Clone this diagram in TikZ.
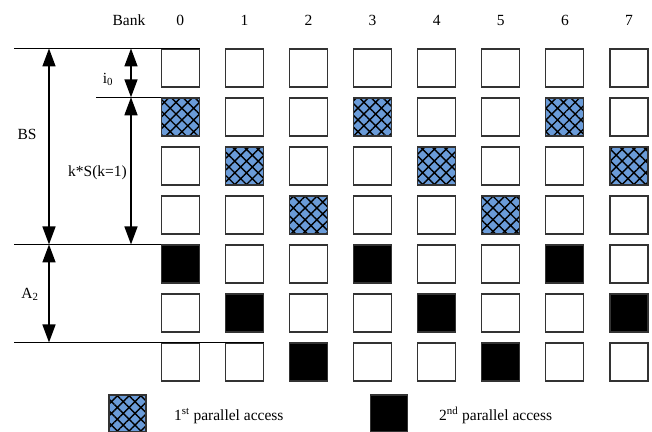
\documentclass[tikz,border=0pt]{standalone}
\usepackage{fontspec}
\setmainfont{Liberation Serif}
\usetikzlibrary{arrows.meta,patterns.meta}
\definecolor{hatchblue}{RGB}{106,155,216}
\tikzset{
	cell/.style={draw=black!80,line width=1.1pt,minimum size=38pt,inner sep=0pt},
	first/.style={preaction={fill=hatchblue},pattern={Hatch[angle=45,distance=8.3pt,line width=1.4pt]},pattern color=black},
	second/.style={fill=black},
	kind0/.style={cell},
	kind1/.style={cell,first},
	kind2/.style={cell,second},
	rule/.style={line width=0.9pt},
	dim/.style={{Triangle[length=18pt,width=13pt]}-{Triangle[length=18pt,width=13pt]},line width=1.5pt},
}
\begin{document}
\begin{tikzpicture}[x=1pt,y=-1pt,font=\fontsize{15.5}{18}\selectfont]
	\useasboundingbox (0,0) rectangle (652,431);
	\node[anchor=base] (bank) at (129,25.5) {Bank};
	\foreach \c in {0,...,7}{
		\node[anchor=base] (b\c) at (180.3+64.1*\c,25.5) {\c};
		\pgfmathtruncatemacro\m{mod(\c,3)}
		\foreach \r in {0,...,6}{
			\pgfmathtruncatemacro\k{(\r==\m+1)+2*(\r==\m+4)}
			\node[kind\k] (s\c-\r) at (180.3+64.1*\c,68+49*\r) {};
		}
	}
	\coordinate (top) at (14,0 |- s0-0.north);
	\coordinate (mid) at (96,0 |- s0-1.north);
	\coordinate (low) at (14,0 |- s0-4.north);
	\coordinate (bot) at (14,0 |- s0-6.north);
	\draw[rule] (top) -- (s0-0.north east);
	\draw[rule] (mid) -- (s0-1.north west);
	\draw[rule] (low) -- (s0-4.north west);
	\draw[rule] (bot) -- (s1-6.north east);
	\coordinate (bs-a) at (49,0 |- top);
	\coordinate (bs-b) at (49,0 |- low);
	\coordinate (a2-b) at (49,0 |- bot);
	\coordinate (i0-a) at (131,0 |- top);
	\coordinate (i0-b) at (131,0 |- mid);
	\coordinate (ks-b) at (131,0 |- low);
	\draw[dim] (bs-a) -- (bs-b);
	\draw[dim] (bs-b) -- (a2-b);
	\draw[dim] (i0-a) -- (i0-b);
	\draw[dim] (i0-b) -- (ks-b);
	\node[anchor=base] (bs) at (27,139) {BS};
	\node[anchor=base] (a2) at (30,298) {A\textsubscript{2}};
	\node[anchor=base] (i0) at (108,83) {i\textsubscript{0}};
	\node[anchor=base] (ks) at (97.5,176.5) {k*S(k=1)};
	\node[cell,first,minimum size=37pt] (key1) at (127.5,413.5) {};
	\node[anchor=base west,inner sep=0pt] (txt1) at (174,420) {1\textsuperscript{st} parallel access};
	\node[cell,second,minimum size=37pt] (key2) at (389,413.5) {};
	\node[anchor=base west,inner sep=0pt] (txt2) at (439,420) {2\textsuperscript{nd} parallel access};
\end{tikzpicture}
\end{document}
